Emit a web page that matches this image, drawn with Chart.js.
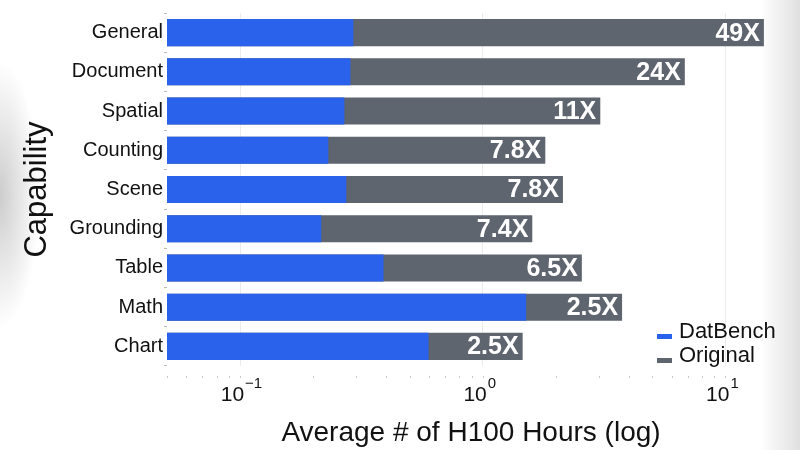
<!DOCTYPE html>
<html lang="en">
<head>
<meta charset="utf-8">
<title>H100 hours</title>
<script src="https://cdn.jsdelivr.net/npm/chart.js@4/dist/chart.umd.min.js"></script>
<style>
  html, body { margin: 0; padding: 0; background: #fff; }
  #wrap { position: relative; width: 800px; height: 450px; overflow: hidden; }
  .shade-l { position: absolute; left: 0; top: 60px; width: 40px; height: 270px;
    background: radial-gradient(ellipse at left center, rgba(0,0,0,0.2), rgba(0,0,0,0) 70%); }
  .shade-r { position: absolute; right: 0; top: 0; width: 40px; height: 450px;
    background: linear-gradient(to left, rgba(0,0,0,0.12), rgba(0,0,0,0)); }
  canvas { position: absolute; left: 0; top: 0; }
</style>
</head>
<body>
<div id="wrap">
  <div class="shade-l"></div>
  <div class="shade-r"></div>
  <canvas id="chart" width="800" height="450"></canvas>
</div>

<script>
// data
var capabilities = ["General", "Document", "Spatial", "Counting", "Scene", "Grounding", "Table", "Math", "Chart"];
var datbenchHours = [0.293, 0.285, 0.269, 0.231, 0.274, 0.216, 0.390, 1.51, 0.598];
var originalHours = [14.4, 6.8, 3.05, 1.81, 2.14, 1.60, 2.56, 3.75, 1.46];
var speedupLabels = ["49X", "24X", "11X", "7.8X", "7.8X", "7.4X", "6.5X", "2.5X", "2.5X"];
var legendNames = ["DatBench", "Original"];

var BLUE = "#2b62ec";
var GRAY = "#5e656e";
var FONT = "'Liberation Sans', Arial, sans-serif";

// labels on bars, powers of ten, minor dots and the legend
var extras = {
  id: "extras",
  afterDatasetsDraw: function(chart) {
    var ctx = chart.ctx;
    var meta = chart.getDatasetMeta(1);
    ctx.save();
    ctx.fillStyle = "#fff";
    ctx.font = "bold 25px " + FONT;
    ctx.textAlign = "right";
    ctx.textBaseline = "middle";
    meta.data.forEach(function(bar, i) {
      ctx.fillText(speedupLabels[i], bar.x - 4, bar.y + 1);
    });
    ctx.restore();
  },
  afterDraw: function(chart) {
    var ctx = chart.ctx;
    var x = chart.scales.x;
    var area = chart.chartArea;
    ctx.save();

    // minor tick dots
    ctx.fillStyle = "#c8c8c8";
    for (var e = -2; e <= 1; e++) {
      for (var m = 1; m <= 9; m++) {
        var v = m * Math.pow(10, e);
        if (v < x.min - 1e-9 || v > x.max) continue;
        var px = Math.round(x.getPixelForValue(v));
        ctx.fillRect(px, area.bottom + 10, 1, 2);
      }
    }

    // 10^n tick labels
    ctx.fillStyle = "#111";
    ctx.textBaseline = "middle";
    for (var p = -1; p <= 1; p++) {
      var cx = x.getPixelForValue(Math.pow(10, p));
      ctx.font = "21px " + FONT;
      ctx.textAlign = "right";
      ctx.fillText("10", cx + 4, area.bottom + 29);
      ctx.font = "15px " + FONT;
      ctx.textAlign = "left";
      ctx.fillText(p < 0 ? "\u2212" + (-p) : String(p), cx + 5, area.bottom + 18);
    }

    // legend
    var colors = [BLUE, GRAY];
    ctx.font = "22px " + FONT;
    ctx.textAlign = "left";
    for (var k = 0; k < legendNames.length; k++) {
      var ly = 332 + k * 24;
      ctx.fillStyle = colors[k];
      ctx.fillRect(657, ly + 2, 15, 5);
      ctx.fillStyle = "#111";
      ctx.fillText(legendNames[k], 679, ly);
    }
    ctx.restore();
  }
};

new Chart(document.getElementById("chart"), {
  type: "bar",
  data: {
    labels: capabilities,
    datasets: [
      { label: legendNames[0], data: datbenchHours, backgroundColor: BLUE },
      { label: legendNames[1], data: originalHours, backgroundColor: GRAY }
    ]
  },
  options: {
    indexAxis: "y",
    responsive: false,
    animation: false,
    layout: { padding: { top: 10, right: 25, left: 0, bottom: 0 } },
    datasets: { bar: { grouped: false, categoryPercentage: 1, barPercentage: 0.69 } },
    plugins: { legend: { display: false }, tooltip: { enabled: false } },
    scales: {
      x: {
        type: "logarithmic",
        min: 0.05,
        max: 16,
        border: { display: false },
        grid: {
          drawTicks: false,
          color: function(c) {
            var v = c.tick && c.tick.value;
            if (!v) return "transparent";
            var l = Math.log10(v);
            return Math.abs(l - Math.round(l)) < 1e-6 ? "#ebebeb" : "transparent";
          }
        },
        ticks: { callback: function() { return ""; } },
        title: {
          display: true,
          text: "Average # of H100 Hours (log)",
          color: "#111",
          font: { family: FONT, size: 28 },
          padding: { top: 0, bottom: 0 }
        },
        afterFit: function(s) { s.height = 84; }
      },
      y: {
        border: { display: false },
        grid: { drawOnChartArea: false, tickLength: 3, color: "#bbb" },
        ticks: { color: "#111", padding: 1, font: { family: FONT, size: 20 } },
        title: {
          display: true,
          text: "Capability",
          color: "#111",
          font: { family: FONT, size: 31 },
          padding: { top: 19, bottom: 0 }
        },
        afterFit: function(s) { s.width = 167; }
      }
    }
  },
  plugins: [extras]
});
</script>
</body>
</html>
